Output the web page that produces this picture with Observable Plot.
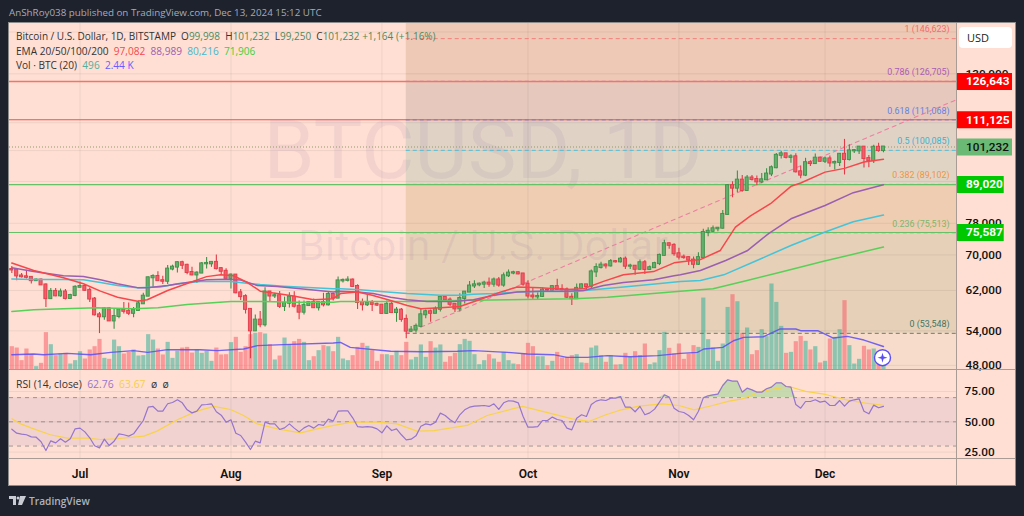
<!DOCTYPE html>
<html>
<head>
<meta charset="utf-8">
<script src="https://cdn.jsdelivr.net/npm/d3@7"></script>
<script src="https://cdn.jsdelivr.net/npm/@observablehq/plot@0.6"></script>
<style>
html,body{margin:0;padding:0;background:#1e222d;overflow:hidden}
#page{position:relative;width:1024px;height:516px;background:#1e222d;overflow:hidden;font-family:"Open Sans",sans-serif}
#panel{position:absolute;left:9px;top:23px;width:1006px;height:462px;background:#ffdfd3;box-sizing:content-box;outline:1px solid #8d8a8a}
#page svg.layer{position:absolute;left:0;top:0;background:transparent}
.t{position:absolute;white-space:nowrap;font-size:10px;line-height:12px;color:#3a3a3a}
.sep{position:absolute;background:#a99c95}
</style>
</head>
<body>
<div id="page"><div id="panel"></div></div>
<script>
// Values. Index 0 is 17 Jun 2024, one candle per day to 13 Dec 2024.
const opens=[66600,66490,65150,64960,64840,64100,64250,63180,60280,61800,60860,61680,60320,60930,
62680,62850,62030,60200,57040,56660,58230,55860,56720,58040,57730,57340,57900,59230,60800,64740,65040,64100,63980,66700,67150,68170,67570,65930,65370,65790,67900,67900,68250,66800,66200,
64620,65350,61500,60700,58120,53990,56030,55130,61680,60830,60900,58710,59350,60600,58730,57560,58870,59490,58440,59480,59020,61160,60390,64060,64170,64250,62850,59500,59030,59370,59120,
58970,57320,59130,57480,57970,56160,53950,54150,54840,57050,57650,57340,58130,60540,60000,59130,58210,60310,61650,62950,63200,63350,63580,63340,64270,63140,65180,65790,65870,65600,
63330,60830,60650,60750,62080,62060,62820,62220,62130,60580,60270,62450,63200,62850,66050,67040,67620,67420,68420,68360,69000,67360,67360,66650,68160,66620,67010,67950,69900,72730,72340,
70280,69480,69360,68780,67800,69360,75600,75900,76540,76700,80400,88700,87950,90400,87250,91060,90600,89850,90500,92300,94300,98400,98900,97700,97900,93000,91950,95950,95650,97450,
96400,97200,95850,96000,98750,97000,99900,99900,101200,97300,96600,101150,99998];
const highs=[67300,66600,65700,66450,65000,64500,64500,63400,62400,62400,62300,62200,61200,63000,
63800,63300,62500,60500,57500,58500,58500,58200,58300,59500,59400,58500,59800,61400,64900,65400,66100,65100,67500,67600,68400,68500,67800,67100,66100,68200,69400,68300,70000,67000,66800,
65600,65500,62200,61100,58300,57000,57700,62600,61700,61400,61800,60600,61500,61700,59800,59800,59700,60200,59600,61400,61800,61400,64900,64500,65000,64500,63200,60200,61200,59900,59400,
59000,59800,59800,58500,58300,57000,54800,55300,58100,58000,58000,58600,60700,60600,60400,59200,61300,61800,63900,64100,63600,64000,64700,64700,64800,65800,66500,66200,66100,65600,
64100,62400,61500,62500,62400,63000,64400,63200,62500,61300,63400,63400,63300,66500,67900,68300,67900,68900,68700,69400,69500,67800,67500,68800,68700,67400,68300,70200,73600,72900,72700,
71600,70000,69500,69500,70500,76400,76800,77300,76800,81500,89000,89900,93300,91800,91800,91800,91700,92500,94000,94900,99000,99800,99000,98600,98900,94900,97400,96600,98800,97800,
97800,98200,96500,99000,103900,102000,100400,101300,101300,98300,101800,102500,101232];
const lows=[65700,64100,64700,64500,63400,63950,63200,58500,60250,60700,60600,60000,60300,60700,
62500,61800,59500,56800,53500,56000,55800,54300,56300,57200,56900,56500,57800,59200,60700,62500,63900,63300,63300,66300,65800,66600,65400,65200,63500,65800,66700,67100,66500,65300,64500,
62300,61300,59900,57200,49100,53950,54600,54700,59600,60300,58300,57700,58400,58400,56100,57000,58800,58400,57800,58600,58800,59800,60350,63600,63800,62800,58100,57800,58700,57700,58700,
57200,57100,57400,55600,55600,52550,53700,53600,54600,56300,55600,57300,57600,59500,58700,57500,57600,59200,61600,62400,62800,62400,62700,62700,62700,62700,64800,65400,65400,62900,
60200,60000,59900,60500,61700,61900,62100,61900,60300,58900,60200,62400,62000,62400,64800,66700,66700,67200,68100,68100,66600,66600,65300,66500,65500,66500,66900,67500,69700,71400,69700,
68800,69000,67500,66800,67500,69300,74500,75600,75800,76500,80200,85100,86600,86700,87100,90100,88700,89300,90400,91500,94000,97200,97200,95800,92600,90800,91500,94700,95400,96100,
95700,94500,93600,94700,92000,96500,99000,98700,94200,94300,95700,99400,99250];
const closes=[66500,65150,64960,64840,64100,64250,63180,60280,61800,60860,61680,60320,60930,62680,
62850,62030,60200,57040,56660,58230,55860,56720,58040,57730,57340,57900,59230,60800,64740,65040,64100,63980,66700,67150,68170,67570,65930,65370,65790,67900,68000,68250,66800,66200,64620,
65350,61500,60700,58120,53990,56030,55130,61680,60830,60900,58710,59350,60600,58730,57560,58870,59490,58440,59480,59020,61160,60390,64060,64170,64250,62850,59500,59030,59370,59120,58970,
57320,59130,57480,57970,56160,53950,54150,54840,57050,57650,57340,58130,60540,60000,59130,58210,60310,61650,62950,63200,63350,63580,63340,64270,63140,65180,65790,65870,65600,63330,
60830,60650,60750,62080,62060,62820,62220,62130,60580,60270,62450,63200,62850,66050,67040,67620,67420,68420,68360,69000,67360,67400,66650,68160,66620,67010,67950,69900,72730,72340,70280,
69480,69360,68780,67800,69360,75600,75900,76540,76700,80400,88700,87950,90400,87250,91060,90600,89850,90500,92300,94300,98400,98900,97700,97900,93000,91950,95950,95650,97450,96400,
97200,95850,96000,98750,97000,99900,100000,101200,97300,96600,101150,100000,101232];
const volumes=[2.42,2.28,.97,2.18,1.59,.35,.69,3.88,2.63,1.49,1.66,1.73,.62,.97,1.9,1.14,2.08,2.42,3.18,1.21,1.11,3.11,2.42,1.66,1.83,2.08,1.45,1.49,3.67,3.11,2.18,1.56,2.87,1.21,
1.94,2.28,2.35,1.76,2.08,1.73,1.94,.9,2.28,1.56,1.59,2.84,3.39,1.83,2.42,3.67,3.81,3.88,3.74,2.63,1.04,1.45,3.32,2.63,2.94,3.18,2.87,.97,1.38,2.01,2.53,2.42,1.9,3.39,
1.14,.97,1.49,2.35,2.77,2.46,2.01,.9,1.59,1.59,1.49,1.94,1.49,2.87,1.04,1.31,2.6,1.31,2.94,2.28,2.6,.8,1.38,1.73,2.63,3.18,2.98,1.59,.55,.97,1.59,1.14,.8,1.83,.97,.62,.55,1.66,
2.77,2.42,1.38,1.38,.45,.9,1.83,1.25,1.31,1.49,1.59,.73,.69,2.28,2.49,1.49,.8,1.49,.52,.55,1.73,1.31,1.9,1.49,2.7,.55,.73,2.01,3.91,2.25,1.66,2.7,
1.11,1.66,2.53,2.35,7.47,3.15,2.28,.9,2.7,6.5,7.82,7.09,3.81,4.36,1.59,2.01,4.19,3.46,8.93,7.02,4.53,1.73,1.83,2.94,3.49,2.98,2.08,2.42,.73,.9,3.22,3.39,4.19,7.2,2.53,.62,1.11,2.46,2.08,2.18,.62,.496];
const rsiValues=[43.9,40.6,39.8,39.3,37.6,37.3,33.5,26.3,34.3,32.6,36,33.2,36,44.2,44.8,41.7,36.8,30.2,28.5,35.7,30.4,34,40.1,39.3,38.2,40.1,45.6,51.1,62.1,62.7,58.8,58.8,64.9,66,68.2,65.7,59.9,57.4,58.8,64,64.3,64.9,58.3,55.5,49.7,51.7,
40.6,38.7,33.2,27.1,34,32.6,49.7,48.3,48.3,43.7,45,48.3,44.8,41.7,45,47,44.8,47.8,47,52.2,50.6,58.8,59.1,59.1,53.3,46.1,45.6,46.1,45.6,44.2,40.9,46.7,42.8,44.2,39.3,35.1,35.7,38.4,46.4,48.3,47.5,49.7,57.2,55.2,51.7,49.2,55.8,59.9,62.1,62.9,63.2,63.5,62.7,64.9,60.2,65.7,67.4,
67.1,65.7,54.4,45.6,45.6,46.1,51.1,51.1,53.9,51.9,51.1,44.8,43.4,53,55.8,54.4,64.3,67.1,68.2,67.6,69.6,69.6,70.9,62.1,62.1,58.3,62.7,55.8,57.4,60.5,66.3,72.3,70.4,61.3,58.5,57.7,55.2,51.7,58.8,69.8,71.5,72.3,72.9,80,84.7,83.6,83.6,74.5,77.8,76.4,74.5,74.5,77.3,78.7,82.2,82.2,79.2,78.7,64.3,61.3,66.8,66.8,68.2,66.3,67.1,63.5,63.5,67.6,62.9,67.1,68.2,69,58.8,56.6,63.8,61.6,62.76];

// Lines read at selected days (days counted from 1 Jul 2024).
const ema20Days=[-14,-9.5,-3.4,.7,4.2,7.7,11.8,13.8,18,22,26,28.9,31.5,34.4,37,40.5,43.8,48,52,53.5,57,60,63.8,67.2,70,74,78,82,86.3,89.8,94.5,100,103.4,107.5,111.6,117.8,122,127.4,131.5,134.6,137.7,141.8,146,148,153,157,161,165];
const ema20=[68080,66380,64750,63430,61850,60560,59770,60050,62000,63490,65000,65420,65200,63700,61850,61350,60830,60050,60280,61350,61650,61000,59910,58900,58260,58440,58690,60050,61650,62730,62600,62220,62360,63950,65400,66130,68140,68900,71080,77000,80000,83400,88500,89500,92900,94100,96200,97082];
const ema50Days=[-14,-9.5,-3.4,.7,4.2,7.7,11.8,13.8,18,22,26,30.3,33,36.4,40.5,45.3,52,53.5,57,60.2,63.8,67.2,71.3,76.7,80.8,85,89.8,94.5,100,103.4,107.5,111.6,117.8,122,123.3,127.4,132.6,137,141.4,146,153,158.8,165];
const ema50=[67000,66130,65200,65030,64300,63430,62600,62600,63060,63700,64300,64420,64230,63060,62850,62360,61650,61850,61650,61350,60560,60050,59700,59700,60050,61000,61650,61850,61850,62000,63060,63700,64300,65200,65420,66380,68690,71000,75300,79200,82900,86600,88989];
const ema100Days=[-14,-9.5,-3.4,.7,4.2,7.7,11.8,16.5,20,24.7,30.9,37,41.8,52,53.5,57.6,61.7,67.2,74,78,80.8,85,89.8,94.5,101.3,105.4,111.6,118.6,123.3,127.4,132.2,139,146,153,158.8,165];
const ema100=[64500,64340,64340,64300,63700,63060,62600,62730,63430,63950,63950,63250,62900,62360,62360,62150,61800,61350,61000,61000,61200,61350,61650,61800,61800,62150,62730,63430,63950,64150,65400,68690,72300,75700,78400,80216];
const ema200Days=[-14,-9.5,-3.4,3.6,11,16,22,31,37.7,43.8,52,53.5,67.2,77.5,87.8,101.3,108.3,123.3,130,137,143.8,152.7,165];
const ema200=[57700,58040,58260,58440,58260,58440,59100,59700,59700,59560,59560,59700,59700,59910,60050,60280,60560,61850,62360,64150,66000,68500,71906];
const volMaDays=[-14,-9.5,-7.5,-2.6,2.2,6.3,11,13.9,18,24.7,28.2,33.6,36.4,41.8,52,53.5,55.5,57.6,63.8,70.5,77.5,80.8,87.8,91.9,97.2,100,104.2,108.3,113,118.6,123.3,126.8,128.1,132,134.2,136.3,140.4,143.8,147,148,151.5,154.7,157.6,161,165];
const volMa=[1.59,1.66,1.59,1.73,1.59,1.83,2.01,1.83,2.11,2.11,2.01,2.18,2.53,2.63,2.8,2.87,2.35,2.25,1.94,1.9,1.94,2.01,1.83,1.66,1.59,1.31,1.31,1.49,1.38,1.49,1.73,1.83,2.18,2.35,3.04,3.39,3.46,4.26,4.26,4.08,4.08,3.32,3.49,3.11,2.44];
const rsiMaDays=[-14,-12.2,-9.5,-6.1,-2.6,1.5,4.2,7.6,13.1,15.8,20,24,27.5,30.9,33.6,36.4,40.5,45.3,48.7,52.1,56.2,61,65.1,69.2,72.7,79.5,83.6,88.8,90.9,95.6,101.1,104.5,108,110.7,114.8,119.6,123,126.1,129.9,133.3,136,140.1,145.6,149,153.1,157.9,161.3,165];
const rsiMa=[52.5,48.3,44.2,39.3,36.5,36.5,35.4,36,38.2,42.3,51.7,58.8,62.7,60.2,55.2,48.3,44.2,40.9,44.2,47,50,49.7,48.3,42.3,42.8,47,55.2,60.7,62.7,58,52.5,50.3,55.8,59.4,62.9,64.9,63.5,59.9,63.5,67.1,69,75.3,79.2,75.1,72.6,67.6,65.4,63.67];

const fibRatios=["0","0.236","0.382","0.5","0.618","0.786","1"];
const fibPrices=[53548,75513,89102,100085,111068,126705,146623];
const fibTextColors=["#3f7561","#7fb56c","#f09440","#38b4d2","#5f83e6","#a85eb5","#f26c6c"];
const fibLineColors=["#4a7a66","#6cbf6c","#f0a052","#45bcd8","#5f86e6","#b06cbb","#f27a7a"];
const fibZoneBottom=[47240,53548,75513,89102,100085,111068,126705];
const fibZoneTop=[53548,75513,89102,100085,111068,126705,154400];
const fibZoneColors=["#f8dccb","#e7d0b8","#efcdb3","#e0d5c4","#e1d2c6","#e6c8bd","#eec9b5"];
const priceTicks=[48000,54000,62000,70000,78000,130000];
const gridPrices=[48000,54000,62000,70000,78000,90000,100000,110000,130000,150000];
const monthStarts=[0,31,62,92,123,153];
const rsiBands=[30,50,70];
const rsiTicks=[25,50,75];

const day=d=>new Date(Date.UTC(2024,6,1)+d*864e5);
const rows=closes.map((c,i)=>({date:day(i-14),o:opens[i],h:highs[i],l:lows[i],c,v:volumes[i],r:rsiValues[i],d:i-14}));
const series=(days,vals)=>days.map((d,i)=>({date:day(d),v:vals[i]}));
const fibs=fibRatios.map((r,i)=>({r,p:fibPrices[i],tc:fibTextColors[i],lc:fibLineColors[i]}));
const zones=fibZoneColors.map((fill,i)=>({y1:fibZoneBottom[i],y2:fibZoneTop[i],fill}));

const xDomain=[day(-14.48),day(180)];
const fibStart=day(67), xEnd=xDomain[1];
const FONT='Roboto,"Open Sans",sans-serif';
const base={width:1024,height:516,marginLeft:9,marginRight:68,marginTop:23,marginBottom:146.5,
  x:{type:"utc",domain:xDomain,axis:null},color:{type:"identity"},className:"layer",
  style:{background:"transparent",fontFamily:FONT,overflow:"visible"}};
const priceY={type:"log",domain:[47240,154400],axis:null};
const gridColor="#00000010";
const page=document.getElementById("page");
const add=s=>{s.classList.add("layer");page.appendChild(s);};

// background layer: fib zones, grid, levels, watermark
add(Plot.plot({...base,y:priceY,marks:[
  Plot.rect(zones,{x1:()=>fibStart,x2:()=>xEnd,y1:"y1",y2:"y2",fill:"fill"}),
  Plot.ruleY(gridPrices,{stroke:gridColor}),
  Plot.ruleX(monthStarts.map(day),{stroke:gridColor}),
  Plot.text(["BTCUSD, 1D"],{frameAnchor:"middle",dy:-45,fontSize:82,fill:"#7a5aa0",fillOpacity:.09,fontFamily:"Roboto,sans-serif"}),
  Plot.text(["Bitcoin / U.S. Dollar"],{frameAnchor:"middle",dy:49,fontSize:43,fill:"#7a5aa0",fillOpacity:.09,fontFamily:"Roboto,sans-serif"})
]}));

// volume layer
add(Plot.plot({...base,y:{domain:[0,35.98],axis:null},marks:[
  Plot.ruleX(rows,{x:"date",y1:0,y2:"v",strokeWidth:4.2,stroke:d=>d.c>=d.o?"#22ab94":"#f7525f",strokeOpacity:.5}),
  Plot.line(series(volMaDays,volMa),{x:"date",y:"v",stroke:"#5b4df5",strokeWidth:1.4,strokeOpacity:.85})
]}));

// price layer
const bodyFill=d=>d.c>=d.o?"#62b06c":"#ee5f6a", bodyEdge=d=>d.c>=d.o?"#3f8f49":"#e23a48";
const ema=(days,vals,stroke)=>Plot.line(series(days,vals),{x:"date",y:"v",stroke,strokeWidth:1.5});
const fmt=d3.format(",");
add(Plot.plot({...base,y:priceY,marks:[
  Plot.axisY({ticks:priceTicks,anchor:"right",tickSize:0,tickPadding:9,tickFormat:fmt,label:null,fontSize:11.8,fontWeight:500,fill:"#111"}),
  Plot.ruleY(fibs,{y:"p",x1:()=>fibStart,x2:()=>xEnd,stroke:"lc",strokeOpacity:.9,strokeDasharray:"4 3"}),
  Plot.line([{x:fibStart,y:53548},{x:xEnd,y:119000}],{x:"x",y:"y",stroke:"#ee7fa0",strokeDasharray:"4 4",strokeWidth:1.1}),
  Plot.ruleY([101232],{stroke:"#8e9b66",strokeDasharray:"1 2"}),
  Plot.ruleY([126643],{stroke:"#f4736e",strokeWidth:1.6}),
  Plot.ruleY([111125],{stroke:"#f25050",strokeWidth:1.1}),
  Plot.ruleY([89020,75587],{stroke:"#66c266",strokeWidth:1.2}),
  Plot.ruleX(rows,{x:"date",y1:"l",y2:"h",stroke:bodyEdge,strokeWidth:1.1}),
  Plot.rect(rows,{x1:d=>day(d.d-.32),x2:d=>day(d.d+.32),y1:"o",y2:"c",fill:bodyFill,stroke:bodyEdge,strokeWidth:.9,insetTop:-.5,insetBottom:-.5}),
  ema(ema200Days,ema200,"#58d058"),
  ema(ema100Days,ema100,"#44c4d8"),
  ema(ema50Days,ema50,"#9a5fb0"),
  ema(ema20Days,ema20,"#f6474c"),
  Plot.text(fibs,{x:()=>xEnd,y:"p",text:d=>`${d.r} (${fmt(d.p)})`,textAnchor:"end",dx:-7,dy:-9,fill:"tc",fontSize:8.9}),
  // price tags on the scale column
  Plot.ruleY([101232],{x1:()=>day(180.2),x2:()=>day(191.5),stroke:"#6ab974",strokeWidth:17}),
  Plot.ruleY([126643,111125],{x1:()=>day(180.2),x2:()=>day(191.5),stroke:"#ff0000",strokeWidth:17}),
  Plot.ruleY([89020,75587],{x1:()=>day(180.2),x2:()=>day(189.8),stroke:"#00c800",strokeWidth:17}),
  Plot.text([101232],{x:()=>day(180.2),y:d=>d,dx:8.5,text:d=>fmt(d),textAnchor:"start",fill:"#111",fontSize:11.8,fontWeight:500}),
  Plot.text([126643,111125,89020,75587],{x:()=>day(180.2),y:d=>d,dx:8.5,text:d=>fmt(d),textAnchor:"start",fill:"#fff",fontSize:11.8,fontWeight:700})
]}));

// RSI layer
add(Plot.plot({...base,marginTop:370,marginBottom:58,
  y:{domain:[19.7,92.4],axis:null},marks:[
  Plot.rect([0],{x1:()=>xDomain[0],x2:()=>xDomain[1],y1:30,y2:70,fill:"#f1d2d0"}),
  Plot.ruleY(rsiTicks,{stroke:gridColor}),
  Plot.ruleX(monthStarts.map(day),{stroke:gridColor}),
  Plot.ruleY(rsiBands,{stroke:"#7f7f7f",strokeOpacity:.75,strokeDasharray:"4 4"}),
  Plot.areaY(rows,{x:"date",y1:70,y2:d=>Math.max(d.r,70),fill:"#b9d8a6",fillOpacity:.8}),
  Plot.line(series(rsiMaDays,rsiMa),{x:"date",y:"v",stroke:"#f8d348",strokeWidth:1.2}),
  Plot.line(rows,{x:"date",y:"r",stroke:"#9575cd",strokeWidth:1.2}),
  Plot.axisY({ticks:rsiTicks,anchor:"right",tickSize:0,tickPadding:8,tickFormat:d3.format(".2f"),label:null,fontSize:11.8,fontWeight:500,fill:"#111"}),
  Plot.axisX({ticks:monthStarts.map(day),tickSize:0,tickPadding:11,tickFormat:d3.utcFormat("%b"),label:null,fontSize:12,fontWeight:600,fill:"#111"})
]}));

// chrome: separators, legends, logo
function sep(l,t,w,h){const e=document.createElement("div");e.className="sep";e.style.cssText=`left:${l}px;top:${t}px;width:${w}px;height:${h}px`;page.appendChild(e);}
sep(956,23,1,462); sep(9,369,1006,1.4); sep(9,458,1006,1);
function txt(x,y,parts,size,extra){const e=document.createElement("div");e.className="t";e.style.cssText=`left:${x}px;top:${y}px;${size?`font-size:${size}px;`:""}${extra||""}`;
  parts.forEach(([s,c])=>{const sp=document.createElement("span");sp.textContent=s;if(c)sp.style.color=c;e.appendChild(sp);});page.appendChild(e);return e;}
txt(9,7,[["AnShRoy038 published on TradingView.com, Dec 13, 2024 15:12 UTC","#a6abb6"]],9.8);
const g="#4f8a5a";
txt(16,30,[["Bitcoin / U.S. Dollar, 1D, BITSTAMP  ","#333"],["O","#333"],["99,998  ",g],["H","#333"],["101,232  ",g],["L","#333"],["99,250  ",g],["C","#333"],["101,232 +1,164 (+1.16%)",g]],10,"white-space:pre");
txt(16,45,[["EMA 20/50/100/200  ","#333"],["97,082  ","#f6474c"],["88,989  ","#9a5fb0"],["80,216  ","#44b8d0"],["71,906","#40cf40"]],10.1,"white-space:pre");
txt(16,59,[["Vol · BTC (20)  ","#333"],["496  ","#55ae9b"],["2.44 K","#6a5cff"]],10.1,"white-space:pre");
txt(16,378,[["RSI (14, close)  ","#333"],["62.76  ","#9575cd"],["63.67  ","#f4cf4a"],["ø  ø","#333"]],10.4,"white-space:pre");
txt(29,495,[["TradingView","#aeb2bb"]],10.2,"font-weight:600");
const usd=txt(959,27,[["USD","#222"]],11,"width:53px;height:21px;line-height:21px;background:#fff;border-radius:4px;text-indent:8px");
// TradingView logo and the floating badge
page.insertAdjacentHTML("beforeend",`<svg style="position:absolute;left:9px;top:495px" width="17" height="11" viewBox="0 0 17 11"><path d="M0 1h7v9H4V4H0z M11 1h6l-4 9H9z" fill="#c9ccd3"/><circle cx="9" cy="3" r="1.5" fill="#c9ccd3"/></svg>
<svg style="position:absolute;left:872px;top:348px" width="20" height="20" viewBox="0 0 20 20"><circle cx="10.5" cy="9.7" r="8" fill="#fff" stroke="#5b4df5" stroke-width="1.4"/><path d="M10.5 4.7 L11.6 8.6 L15.5 9.7 L11.6 10.8 L10.5 14.7 L9.4 10.8 L5.5 9.7 L9.4 8.6Z" fill="#5b4df5"/></svg>`);
</script>
</body>
</html>
